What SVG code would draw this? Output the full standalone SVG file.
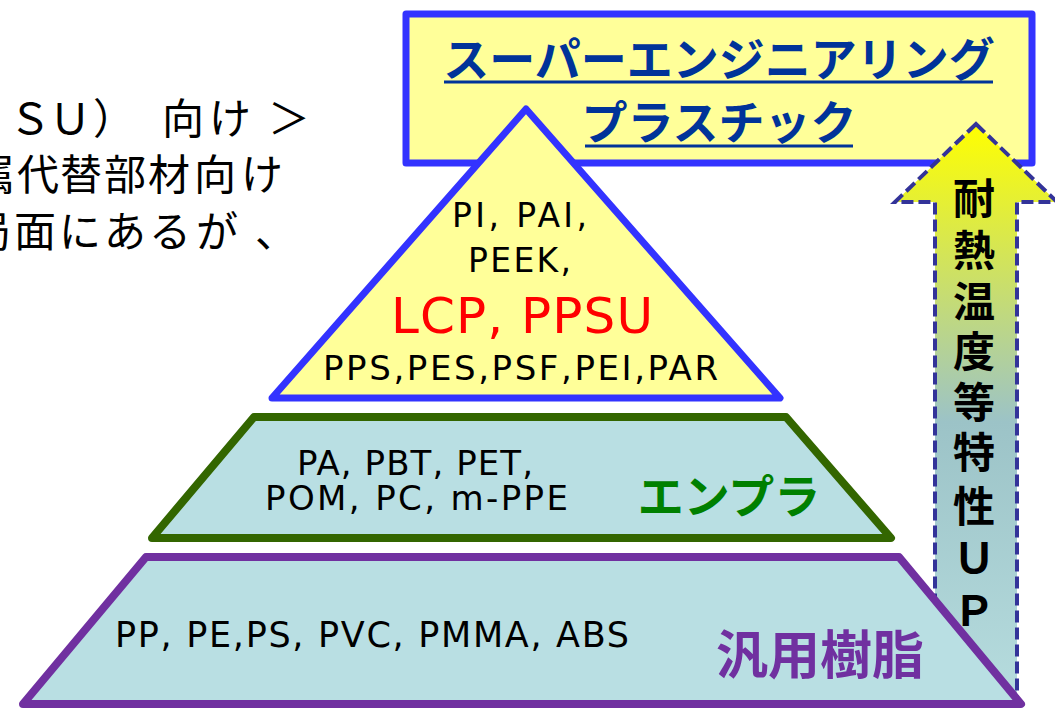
<svg xmlns="http://www.w3.org/2000/svg" width="1055" height="708" viewBox="0 0 1055 708">
  <defs>
    <linearGradient id="arrowGrad" x1="0" y1="0" x2="0" y2="1">
      <stop offset="0" stop-color="#FFFF00"/>
      <stop offset="0.5" stop-color="#9CC3C7"/>
      <stop offset="1" stop-color="#B8DEE0"/>
    </linearGradient>
    <style>
      .jp { font-family: "Noto Sans CJK JP", sans-serif; }
      .lat { font-family: "DejaVu Sans", "Liberation Sans", sans-serif; fill: #000; }
      .bg { fill: #B9DFE3; stroke-linejoin: round; }
      .title { fill: #003399; font-weight: bold; font-size: 46px; text-anchor: middle; }
      .uline { stroke: #003399; stroke-width: 3; }
      .vert { fill: #000; font-weight: bold; font-size: 42px; text-anchor: middle; }
    </style>
  </defs>
  <rect width="1055" height="708" fill="#FFFFFF"/>

  <g id="left-text" class="jp" fill="#000" font-size="42" text-anchor="middle">
    <text x="30 70 114 183 230 289" y="134">ＳＵ）向け＞</text>
    <text x="-6 38 81 125 169 215 262" y="190">属代替部材向け</text>
    <text x="-10 35 80 125 170 217 276" y="247">局面にあるが、</text>
  </g>

  <g id="super-engineering">
    <rect x="406" y="14" width="626" height="149" fill="#FFFF99" stroke="#3333FF" stroke-width="7" stroke-linejoin="round"/>
    <text class="jp title" x="719" y="76">スーパーエンジニアリング</text>
    <line class="uline" x1="444" y1="82" x2="993" y2="82"/>
    <text class="jp title" x="719" y="139">プラスチック</text>
    <line class="uline" x1="585" y1="146" x2="853" y2="146"/>
  </g>

  <g id="triangle">
    <polygon points="526,109 780,398 272,398" fill="#FFFF99" stroke="#3333FF" stroke-width="7" stroke-linejoin="round"/>
    <text class="lat" font-size="33" x="452" y="227" textLength="135" lengthAdjust="spacing">PI, PAI,</text>
    <text class="lat" font-size="33" x="468" y="272" textLength="103" lengthAdjust="spacing">PEEK,</text>
    <text class="lat" font-size="50" x="391" y="333" textLength="262" lengthAdjust="spacing" fill="#FF0000" style="fill:#FF0000">LCP, PPSU</text>
    <text class="lat" font-size="34" x="323" y="380" textLength="395" lengthAdjust="spacing">PPS,PES,PSF,PEI,PAR</text>
  </g>

  <g id="arrow">
    <polygon points="976,124 1057,202 1017,202 1017,720 935,720 935,202 895,202" fill="url(#arrowGrad)" stroke="#333399" stroke-width="4" stroke-dasharray="12,5"/>
  </g>

  <g id="enpla">
    <polygon class="bg" points="254,417 786,417 891,538 152,538" stroke="#336600" stroke-width="8"/>
    <text class="lat" font-size="34" x="297" y="475" textLength="236" lengthAdjust="spacing">PA, PBT, PET,</text>
    <text class="lat" font-size="34" x="265" y="510" textLength="303" lengthAdjust="spacing">POM, PC, m-PPE</text>
    <text class="jp" x="729" y="513" font-size="46" font-weight="bold" fill="#008000" text-anchor="middle">エンプラ</text>
  </g>

  <g id="general">
    <polygon class="bg" points="146,557 899,557 1021,704 23,704" stroke="#7030A0" stroke-width="8"/>
    <text class="lat" font-size="35" x="115" y="647" textLength="514" lengthAdjust="spacing">PP, PE,PS, PVC, PMMA, ABS</text>
    <text class="jp" x="820" y="674" font-size="52" font-weight="bold" fill="#7030A0" text-anchor="middle">汎用樹脂</text>
  </g>

  <g id="arrow-label" class="jp vert">
    <text x="974" y="214">耐</text>
    <text x="974" y="266">熱</text>
    <text x="974" y="317">温</text>
    <text x="974" y="367">度</text>
    <text x="974" y="418">等</text>
    <text x="974" y="468">特</text>
    <text x="974" y="522">性</text>
    <text x="974" y="573">Ｕ</text>
    <text x="974" y="626">Ｐ</text>
  </g>

  <g id="connectors"/>
</svg>
